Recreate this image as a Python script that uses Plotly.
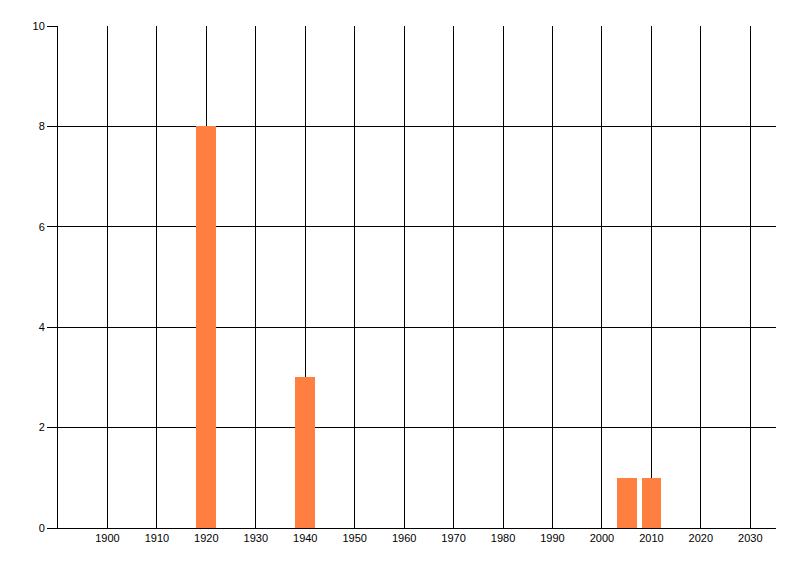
import plotly.graph_objects as go

years = [1920, 1940, 2005, 2010]
counts = [8, 3, 1, 1]
x_ticks = list(range(1900, 2031, 10))
y_ticks = [0, 2, 4, 6, 8, 10]

fig = go.Figure(go.Bar(x=years, y=counts, width=4, marker=dict(color="#FF7F41", line=dict(width=0))))

fig.update_layout(
    width=792, height=568,
    margin=dict(l=50, r=24, t=18, b=48, pad=0),
    paper_bgcolor="white", plot_bgcolor="white",
    font=dict(family="Liberation Sans, Arial, sans-serif", size=11, color="black"),
    showlegend=False,
    bargap=0,
)
fig.update_xaxes(
    range=[1890, 2035.2], tickvals=x_ticks, ticktext=[str(t) for t in x_ticks],
    showgrid=True, gridcolor="black", gridwidth=1,
    showline=True, linecolor="black", linewidth=1,
    ticks="", zeroline=False, automargin=False,
)
fig.update_yaxes(
    range=[0, 10], tickvals=y_ticks,
    showgrid=True, gridcolor="black", gridwidth=1,
    showline=True, linecolor="black", linewidth=1,
    ticks="outside", ticklen=10, tickcolor="black", zeroline=False, automargin=False,
)
fig.write_html("out.html")
